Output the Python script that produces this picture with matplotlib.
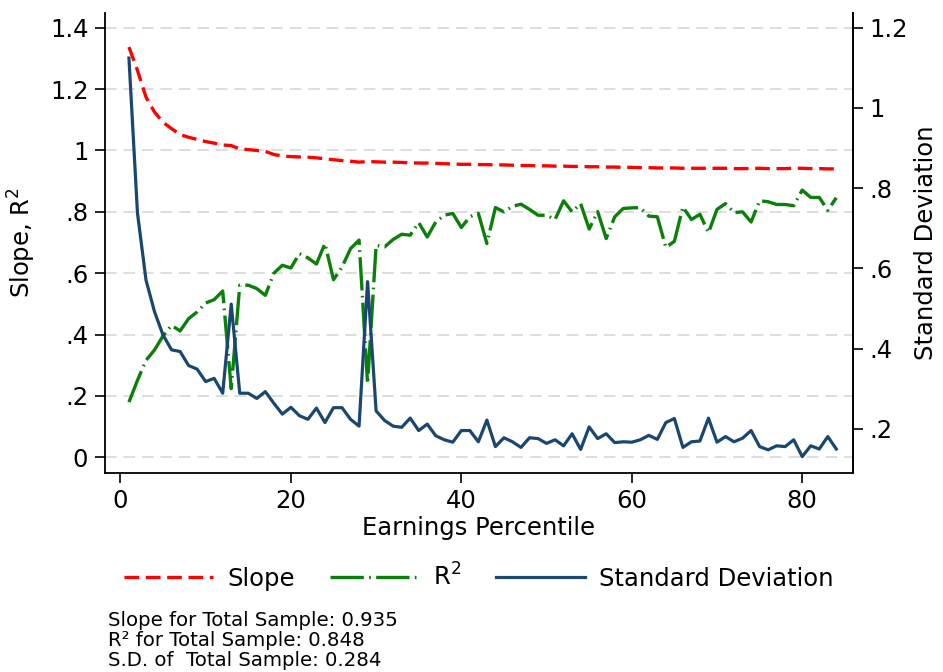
import matplotlib
matplotlib.use("Agg")
import matplotlib.pyplot as plt
from matplotlib.ticker import FixedLocator, FixedFormatter

# ---------------- data ----------------
percentile = list(range(1, 85))

slope = [1.337, 1.261, 1.174, 1.125, 1.092, 1.071, 1.052, 1.043, 1.036, 1.029,
         1.024, 1.018, 1.016, 1.005, 1.003, 1.000, 0.997, 0.987, 0.982, 0.980,
         0.979, 0.978, 0.976, 0.973, 0.970, 0.967, 0.965, 0.962,
         0.964, 0.963, 0.962, 0.962, 0.961, 0.960, 0.959, 0.959, 0.958, 0.957,
         0.956, 0.955, 0.955, 0.954, 0.954, 0.953, 0.953, 0.952, 0.951, 0.951,
         0.950, 0.950, 0.949, 0.949, 0.948, 0.948, 0.947, 0.947,
         0.946, 0.946, 0.945, 0.945, 0.944, 0.944, 0.943, 0.943, 0.943, 0.942,
         0.942, 0.942, 0.942, 0.942, 0.942, 0.941, 0.941, 0.941, 0.942, 0.941,
         0.941, 0.941, 0.942, 0.942, 0.941, 0.941, 0.940, 0.940]

r2 = [0.180, 0.251, 0.316, 0.350, 0.396, 0.430, 0.412, 0.452, 0.474, 0.503,
      0.514, 0.542, 0.224, 0.561, 0.561, 0.550, 0.528, 0.600, 0.626, 0.617,
      0.664, 0.650, 0.630, 0.697, 0.579, 0.620, 0.680, 0.708,
      0.240, 0.691, 0.686, 0.710, 0.727, 0.724, 0.765, 0.718, 0.767, 0.789,
      0.795, 0.749, 0.784, 0.795, 0.697, 0.814, 0.800, 0.818, 0.825, 0.808,
      0.789, 0.789, 0.775, 0.836, 0.800, 0.827, 0.744, 0.801,
      0.713, 0.784, 0.811, 0.813, 0.814, 0.786, 0.784, 0.684, 0.704, 0.816,
      0.775, 0.792, 0.732, 0.808, 0.827, 0.798, 0.800, 0.767, 0.836, 0.833,
      0.824, 0.824, 0.820, 0.871, 0.847, 0.847, 0.805, 0.846]

sd = [1.124, 0.738, 0.571, 0.492, 0.434, 0.397, 0.393, 0.358, 0.349, 0.318,
      0.326, 0.289, 0.511, 0.289, 0.289, 0.276, 0.293, 0.264, 0.237, 0.254,
      0.233, 0.224, 0.252, 0.216, 0.253, 0.253, 0.224, 0.207,
      0.567, 0.245, 0.221, 0.207, 0.204, 0.227, 0.196, 0.212, 0.183, 0.173,
      0.167, 0.196, 0.196, 0.168, 0.222, 0.156, 0.178, 0.168, 0.154, 0.178,
      0.176, 0.164, 0.173, 0.158, 0.188, 0.149, 0.205, 0.176,
      0.188, 0.166, 0.168, 0.167, 0.173, 0.184, 0.174, 0.216, 0.226, 0.154,
      0.168, 0.170, 0.227, 0.167, 0.181, 0.168, 0.177, 0.196, 0.156, 0.148,
      0.158, 0.156, 0.173, 0.131, 0.158, 0.150, 0.181, 0.150]

x_ticks = [0, 20, 40, 60, 80]
left_ticks = [0, 0.2, 0.4, 0.6, 0.8, 1.0, 1.2, 1.4]
left_labels = ["0", ".2", ".4", ".6", ".8", "1", "1.2", "1.4"]
right_ticks = [0.2, 0.4, 0.6, 0.8, 1.0, 1.2]
right_labels = [".2", ".4", ".6", ".8", "1", "1.2"]

notes = ["Slope for Total Sample: 0.935",
         "R\u00b2 for Total Sample: 0.848",
         "S.D. of  Total Sample: 0.284"]

# ---------------- figure ----------------
plt.rcParams["font.family"] = ["DejaVu Sans"]
plt.rcParams["mathtext.fontset"] = "dejavusans"
FS = 17.5

fig = plt.figure(figsize=(9.43, 6.72), dpi=100)
ax = fig.add_axes([105 / 943, (672 - 472.7) / 672, 747.5 / 943, 460 / 672])
ax2 = ax.twinx()

RED = "#ff0000"
GREEN = "#0a7f0a"
NAVY = "#1a476f"

l1, = ax.plot(percentile, slope, color=RED, lw=2.4, linestyle=(0, (4.4, 2.0)),
              label="Slope", zorder=3)
l2, = ax.plot(percentile, r2, color=GREEN, lw=2.4,
              linestyle=(0, (10.0, 1.6, 0.5, 1.6)), label=r"R$^2$", zorder=3)
l3, = ax2.plot(percentile, sd, color=NAVY, lw=2.3, label="Standard Deviation",
               zorder=3)

ax.set_xlim(-1.81, 85.9)
ax.set_ylim(-0.050, 1.449)
ax2.set_ylim(0.091, 1.237)

ax.xaxis.set_major_locator(FixedLocator(x_ticks))
ax.yaxis.set_major_locator(FixedLocator(left_ticks))
ax.yaxis.set_major_formatter(FixedFormatter(left_labels))
ax2.yaxis.set_major_locator(FixedLocator(right_ticks))
ax2.yaxis.set_major_formatter(FixedFormatter(right_labels))

for a in (ax, ax2):
    a.spines["top"].set_visible(False)
    for s in a.spines.values():
        s.set_linewidth(1.3)
        s.set_color("black")
    a.tick_params(direction="out", length=7, width=1.2, labelsize=FS, pad=5,
                  colors="black")
ax2.spines["left"].set_visible(False)
ax2.spines["bottom"].set_visible(False)

ax.yaxis.grid(True, color="#dedede", lw=1.4, linestyle=(0, (6, 3.5)))
ax.set_axisbelow(True)

ax.set_xlabel("Earnings Percentile", fontsize=FS, labelpad=2)
ax.set_ylabel(r"Slope, R$^2$", fontsize=FS)
ax2.set_ylabel("Standard Deviation", fontsize=FS, rotation=90)
ax.yaxis.set_label_coords((38 - 105) / 747.5, 0.5)
ax2.yaxis.set_label_coords((914 - 105) / 747.5, 0.5)

fig.legend(handles=[l1, l2, l3], loc="center",
           bbox_to_anchor=(479 / 943, 1 - 577 / 672), ncol=3, frameon=False,
           fontsize=FS, handlelength=3.66, handletextpad=0.57,
           columnspacing=1.45, borderpad=0)

for i, t in enumerate(notes):
    fig.text(108 / 943, 1 - (626 + 20 * i) / 672, t, fontsize=14.2,
             ha="left", va="baseline")

fig.savefig("out.png", dpi=100, facecolor="white")
